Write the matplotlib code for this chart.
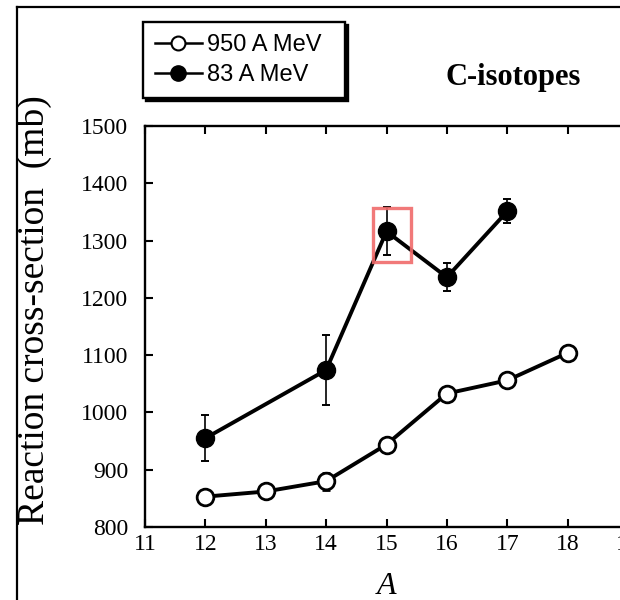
import matplotlib
matplotlib.use("Agg")
import matplotlib.pyplot as plt
from matplotlib.lines import Line2D
from matplotlib.patches import Rectangle

# Data
A_950 = [12, 13, 14, 15, 16, 17, 18]
sigma_950 = [853, 862, 880, 944, 1033, 1056, 1104]
err_950 = [0, 0, 15, 0, 0, 0, 0]

A_83 = [12, 14, 15, 16, 17]
sigma_83 = [955, 1074, 1316, 1236, 1351]
err_83 = [40, 61, 42, 24, 21]

xticks = [11, 12, 13, 14, 15, 16, 17, 18, 19]
yticks = [800, 900, 1000, 1100, 1200, 1300, 1400, 1500]

serif = ["Liberation Serif", "DejaVu Serif"]
sans = ["Liberation Sans", "DejaVu Sans"]

fig = plt.figure(figsize=(6.2, 6.0), dpi=100)
W, H = 620, 600
ax = fig.add_axes([145 / W, 1 - 527 / H, (628 - 145) / W, (527 - 126) / H])

l1 = ax.errorbar(A_950, sigma_950, yerr=err_950, fmt='-o', color='black',
                 mfc='white', mec='black', mew=2.0, ms=12, lw=2.8,
                 elinewidth=1.2, capsize=3.2, capthick=1.4, zorder=3)
l2 = ax.errorbar(A_83, sigma_83, yerr=err_83, fmt='-o', color='black',
                 mfc='black', mec='black', ms=13, lw=2.8,
                 elinewidth=1.2, capsize=3.2, capthick=1.4, zorder=3)

ax.set_xlim(11, 19)
ax.set_ylim(800, 1500)
ax.set_xticks(xticks)
ax.set_yticks(yticks)
ax.set_xticklabels([str(t) for t in xticks], fontfamily=serif, fontsize=17)
ax.set_yticklabels([str(t) for t in yticks], fontfamily=serif, fontsize=17)
ax.tick_params(direction='in', length=6, width=1.5, top=True, right=True)
ax.tick_params(axis='x', pad=5)
ax.tick_params(axis='y', pad=12)
for s in ax.spines.values():
    s.set_linewidth(1.7)

ax.set_xlabel('A', fontfamily=serif, fontstyle='italic', fontsize=23, labelpad=12)
ax.set_ylabel('Reaction cross-section  (mb)', fontfamily=serif, fontsize=27, labelpad=10)
ax.yaxis.set_label_coords(-0.192, 0.541)

ax.text(0.762, 1.122, 'C-isotopes', transform=ax.transAxes, fontfamily=serif,
        fontweight='bold', fontsize=22, ha='center', va='center')

# highlight box
ax.add_patch(Rectangle((14.77, 1263), 0.63, 93, fill=False, edgecolor='#f06a6a',
                       lw=2.4, alpha=0.9, zorder=5, clip_on=False))

handles = [Line2D([], [], color='black', lw=1.8, marker='o', mfc='white', mec='black', ms=10, mew=1.5),
           Line2D([], [], color='black', lw=1.8, marker='o', mfc='black', mec='black', ms=11)]
leg = fig.legend(handles, ['950 A MeV', '83 A MeV'], loc='upper left',
                 bbox_to_anchor=(143 / W, 1 - 97 / H, 202 / W, 75 / H), mode='expand',
                 bbox_transform=fig.transFigure,
                 prop={'family': sans, 'size': 17}, frameon=True, fancybox=False,
                 shadow={'ox': 2.5, 'oy': -2.5, 'color': 'black', 'alpha': 1}, framealpha=1,
                 edgecolor='black', handlelength=2.0, handletextpad=0.2,
                 labelspacing=0.35, borderpad=0.5, borderaxespad=0)
leg.get_frame().set_linewidth(1.7)

# page border
fig.add_artist(Line2D([17 / W, 17 / W], [0, 1 - 7 / H], transform=fig.transFigure,
                      color='black', lw=1.6))
fig.add_artist(Line2D([17 / W, 1], [1 - 7 / H, 1 - 7 / H], transform=fig.transFigure,
                      color='black', lw=1.6))

fig.savefig('out.png', dpi=100)
